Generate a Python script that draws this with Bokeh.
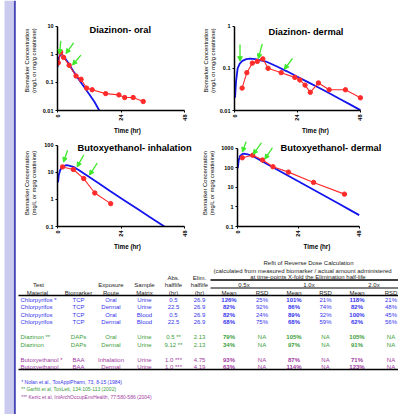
import math
from bokeh.plotting import figure
from bokeh.layouts import row, column
from bokeh.models import (Range1d, FixedTicker, NumeralTickFormatter, Arrow,
                          NormalHead, Label)
from bokeh.embed import file_html
from bokeh.resources import INLINE
from bokeh.core.properties import value

# ===================== DATA =====================
# Diazinon - oral
dzo_meas_t = [0.3, 1.2, 2.3, 4.4, 7.0, 8.9, 11.0, 13.1, 18.2, 23.2, 25.4, 28.6, 32.4]
dzo_meas_c = [0.5, 1.2, 0.78, 0.41, 0.17, 0.13, 0.063, 0.055, 0.040, 0.036, 0.029, 0.029, 0.021]
dzo_model_t = [0, 0.5, 1, 1.5, 2, 3, 4, 6, 8, 10, 12, 14, 15.8]
dzo_model_c = [0.35, 0.75, 0.95, 1.0, 0.92, 0.7, 0.5, 0.25, 0.13, 0.07, 0.038, 0.02, 0.01]
dzo_arrow_t = [0.76, 3.2, 5.7]
dzo_arrow_c = [1.03, 1.08, 0.42]

# Diazinon - dermal
dzd_meas_t = [2.9, 4.7, 6.8, 8.7, 10.8, 12.8, 17.8, 23.0, 24.9, 26.9, 28.9, 32.0, 36.1, 42.3, 48.0]
dzd_meas_c = [0.034, 0.079, 0.133, 0.146, 0.168, 0.10, 0.079, 0.061, 0.053, 0.040, 0.027, 0.045, 0.031, 0.031, 0.020]
dzd_model_t = [0.2, 0.6, 1.2, 2, 3, 4.5, 6, 8, 12, 16, 20, 24, 28, 32, 36, 40, 44, 48]
dzd_model_c = [0.02, 0.05, 0.10, 0.13, 0.15, 0.165, 0.17, 0.165, 0.145, 0.112, 0.085, 0.063, 0.047, 0.035, 0.026, 0.019, 0.014, 0.0102]
dzd_arrow_t = [2.1, 9.1, 19.0]
dzd_arrow_c = [0.148, 0.171, 0.095]

# Butoxyethanol - inhalation
bei_meas_t = [1.9, 6.0, 9.9, 14.1, 20.1]
bei_meas_c = [15.9, 12.8, 5.9, 1.73, 0.70]
bei_model_t = [0.2, 0.5, 1, 1.5, 2, 3.2, 4, 6, 8, 10, 15, 20, 25, 30, 35, 40.4]
bei_model_c = [4.3, 8.0, 12.0, 15.0, 17.0, 18.3, 18.0, 16.0, 12.3, 9.0, 4.3, 2.0, 0.96, 0.46, 0.22, 0.10]
bei_arrow_t = [2.3, 7.4, 12.1]
bei_arrow_c = [24.0, 15.9, 8.0]

# Butoxyethanol - dermal
bed_meas_t = [1.9, 6.0, 9.9, 14.0, 20.1, 30.0, 42.2]
bed_meas_c = [324, 437, 249, 113, 60, 17.9, 4.5]
bed_model_t = [0.1, 0.5, 1, 2, 3, 4, 6, 10, 15, 20, 25, 30, 35, 40, 45, 48]
bed_model_c = [97, 250, 400, 510, 520, 480, 400, 205, 90, 39, 17.2, 7.5, 3.3, 1.45, 0.63, 0.38]
bed_arrow_t = [1.95, 6.2, 10.8]
bed_arrow_c = [637, 490, 279]

time_ticks = [0, 24, 48]

# Table
materials = ["Chlorpyrifos *", "Chlorpyrifos", "Chlorpyrifos", "Chlorpyrifos",
             "Diazinon **", "Diazinon", "Butoxyethanol *", "Butoxyethanol"]
biomarkers = ["TCP", "TCP", "TCP", "TCP", "DAPs", "DAPs", "BAA", "BAA"]
routes = ["Oral", "Dermal", "Oral", "Dermal", "Oral", "Dermal", "Inhalation", "Dermal"]
matrices = ["Urine", "Urine", "Blood", "Blood", "Urine", "Urine", "Urine", "Urine"]
abs_hl = ["0.5", "22.5", "0.5", "22.5", "0.5 **", "9.12 **", "1.0 ***", "1.0 ***"]
elim_hl = ["26.9", "26.9", "26.9", "26.9", "2.13", "2.13", "4.75", "4.19"]
mean_05 = ["126%", "82%", "82%", "68%", "79%", "34%", "93%", "63%"]
rsd_05 = ["25%", "92%", "24%", "75%", "NA", "NA", "NA", "NA"]
mean_10 = ["101%", "86%", "89%", "68%", "105%", "97%", "87%", "114%"]
rsd_10 = ["21%", "74%", "32%", "59%", "NA", "NA", "NA", "NA"]
mean_20 = ["118%", "82%", "100%", "62%", "105%", "91%", "71%", "123%"]
rsd_20 = ["21%", "48%", "45%", "56%", "NA", "NA", "NA", "NA"]
row_group = ["c", "c", "c", "c", "d", "d", "b", "b"]
fold_labels = ["0.5x", "1.0x", "2.0x"]
footnotes = ["*   Nolan et al., ToxApplPharm, 73, 8-15 (1984)",
             "**   Garfitt et al, ToxLett, 134:105-113 (2002)",
             "***   Kezic et al, IntArchOccupEnvHealth, 77:580-586 (2004)"]
foot_group = ["c", "d", "b"]

# ===================== STYLE / LAYOUT =====================
FONT = "Liberation Sans"
BLUE = "#1414ee"
RED = "#ff2b2b"
GREEN = "#3ee82a"
GROUP_COL = {"c": "#3535ee", "d": "#3a9e3a", "b": "#a23aa2"}
YLAB = "Biomarker Concentration\n(mg/L or mg/g creatinine)"


def make_plot(title, mt, mc, lt, lc, at, ac, y0, y1, yticks, g):
    fx0, fy0, fx1, fy1 = g["fig"]
    ax0, ay0, ax1, ay1 = g["axis"]
    frx1, fry0 = g["frame"]
    aw, ah = ax1 - ax0, ay1 - ay0
    px_hr = aw / 48.0
    px_dec = ah / (math.log10(y1) - math.log10(y0))
    x_end = 48 + (frx1 - ax1) / px_hr
    y_end = 10 ** (math.log10(y1) + (ay0 - fry0) / px_dec)
    p = figure(width=fx1 - fx0, height=fy1 - fy0, x_range=Range1d(0, x_end),
               y_range=Range1d(y0, y_end), y_axis_type="log",
               output_backend="svg", toolbar_location=None,
               min_border_left=ax0 - fx0, min_border_right=fx1 - frx1,
               min_border_top=fry0 - fy0, min_border_bottom=fy1 - ay1)
    p.outline_line_color = None
    p.grid.visible = False
    p.background_fill_color = "white"
    p.border_fill_color = "white"
    p.line(lt, lc, line_color=BLUE, line_width=1.8)
    p.line(mt, mc, line_color=RED, line_width=1.1)
    p.scatter(mt, mc, size=4.4, color=RED)
    for ax in (p.xaxis[0], p.yaxis[0]):
        ax.axis_line_width = 1.5
        ax.axis_line_color = "black"
        ax.major_tick_line_width = 1
        ax.major_tick_out = 2
        ax.major_tick_in = 0
        ax.minor_tick_line_color = None
        ax.major_label_text_font = FONT
        ax.major_label_text_font_size = "5.5px"
        ax.major_label_text_font_style = "bold"
        ax.major_label_text_color = "black"
        ax.major_label_standoff = 2
        ax.axis_label_text_font = FONT
        ax.axis_label_text_color = "black"
    xa = p.xaxis[0]
    xa.ticker = FixedTicker(ticks=time_ticks)
    xa.bounds = (0, 48)
    xa.major_label_orientation = math.pi / 2
    xa.axis_label = "Time (hr)"
    xa.axis_label_text_font_style = "bold"
    xa.axis_label_text_font_size = "6.3px"
    xa.axis_label_standoff = g["xs"]
    ya = p.yaxis[0]
    ya.ticker = FixedTicker(ticks=yticks)
    ya.bounds = (y0, y1)
    ya.formatter = NumeralTickFormatter(format="0.[00]")
    ya.axis_label = YLAB
    ya.axis_label_text_font_style = "normal"
    ya.axis_label_text_font_size = "5.8px"
    ya.axis_label_standoff = g["ys"]
    for t, c, (dx, dy) in zip(at, ac, g["arr"]):
        p.add_layout(Arrow(end=NormalHead(size=4.5, fill_color=GREEN, line_color=GREEN, line_width=1),
                           x_start=t + dx / px_hr, y_start=c * 10 ** (dy / px_dec),
                           x_end=t, y_end=c, line_color=GREEN, line_width=1.3))
    p.add_layout(Label(x=0, y=y1, x_offset=g["tx"], y_offset=-g["ty"], text=title,
                       text_font=FONT, text_font_size="9.3px", text_font_style="bold",
                       text_align="left", text_baseline="middle", text_color="black"))
    return p


g1 = dict(fig=(16, 0, 199, 137), axis=(57, 26, 184, 111), frame=(197, 10),
          xs=3, ys=3, tx=32, ty=4, arr=[(1.3, 13.3), (7.7, 10.7), (8.3, 10)])
g2 = dict(fig=(199, 0, 398, 137), axis=(230, 24, 359, 110), frame=(396, 8),
          xs=3, ys=1, tx=34, ty=6, arr=[(0, 17), (4, 15), (8.3, 11)])
g3 = dict(fig=(16, 137, 199, 252), axis=(57, 145, 184, 229), frame=(197, 139),
          xs=3, ys=4, tx=20, ty=2.7, arr=[(4, 12.3), (6.7, 12.3), (7.7, 12.3)])
g4 = dict(fig=(199, 137, 398, 252), axis=(234, 148, 358, 229), frame=(396, 139),
          xs=3, ys=3, tx=43, ty=0, arr=[(3.7, 10.7), (8.3, 11.7), (7.7, 11.7)])

p1 = make_plot("Diazinon- oral", dzo_meas_t, dzo_meas_c, dzo_model_t, dzo_model_c,
               dzo_arrow_t, dzo_arrow_c, 0.01, 10, [0.01, 0.1, 1, 10], g1)
p2 = make_plot("Diazinon- dermal", dzd_meas_t, dzd_meas_c, dzd_model_t, dzd_model_c,
               dzd_arrow_t, dzd_arrow_c, 0.01, 1, [0.01, 0.1, 1], g2)
p3 = make_plot("Butoxyethanol- inhalation", bei_meas_t, bei_meas_c, bei_model_t, bei_model_c,
               bei_arrow_t, bei_arrow_c, 0.1, 100, [0.1, 1, 10, 100], g3)
p4 = make_plot("Butoxyethanol- dermal", bed_meas_t, bed_meas_c, bed_model_t, bed_model_c,
               bed_arrow_t, bed_arrow_c, 0.1, 1000, [0.1, 1, 10, 100, 1000], g4)

# ---------------- table (page-pixel coordinate space) ----------------
tab = figure(width=382, height=162, x_range=Range1d(16, 398), y_range=Range1d(414, 252),
             output_backend="svg", toolbar_location=None, min_border=0,
             x_axis_location=None, y_axis_location=None)
tab.outline_line_color = None
tab.grid.visible = False
tab.background_fill_color = "white"
tab.border_fill_color = "white"

TS = "6px"
HEAD = "#222222"
row_y = [299, 306.7, 314, 321.7, 336.7, 344, 359, 366.7]
col_x = [78, 110.5, 144, 173, 199, 228.5, 261.5, 293.5, 325, 356.5, 390.5]
fold_x = [243.5, 308.5, 373.5]


def put_text(xs, ys, texts, colors, align="center", style="normal", size=TS):
    tab.text(x=xs, y=ys, text=texts, text_color=colors, text_align=align,
             text_baseline="middle", text_font=value(FONT),
             text_font_size=value(size), text_font_style=style)


hx, hy, ht = [], [], []
for x, y, t in [(38, 284.3, "Test"), (37, 292.3, "Material"), (78, 292.3, "Biomarker"),
                (110.5, 284.3, "Exposure"), (110.5, 292.3, "Route"),
                (144, 284.3, "Sample"), (144, 292.3, "Matrix"),
                (173, 277, "Abs."), (173, 284.3, "halflife"), (173, 292, "(hr)"),
                (199, 277, "Elim."), (199, 284.3, "halflife"), (199, 292, "(hr)"),
                (308, 262, "Refit of Reverse Dose Calculation"),
                (307.5, 276.5, "at time-points X-fold the Elimination half-life")]:
    hx.append(x); hy.append(y); ht.append(t)
for x, t in zip(fold_x, fold_labels):
    hx.append(x); hy.append(284); ht.append(t)
for i in range(3):
    hx += [col_x[5 + 2 * i], col_x[6 + 2 * i]]
    hy += [292, 292]
    ht += ["Mean", "RSD"]
put_text(hx, hy, ht, [HEAD] * len(ht))
put_text([213], [270.5], ["(calculated from measured biomarker / actual amount administered"],
         [HEAD], align="left")

cols_normal = [biomarkers, routes, matrices, abs_hl, elim_hl]
lx, ly, lt, lc = [], [], [], []
nx, ny, nt, nc = [], [], [], []
bx, by, bt_, bc = [], [], [], []
for r in range(len(materials)):
    col = GROUP_COL[row_group[r]]
    lx.append(20); ly.append(row_y[r]); lt.append(materials[r]); lc.append(col)
    for j, arr in enumerate(cols_normal):
        nx.append(col_x[j]); ny.append(row_y[r]); nt.append(arr[r]); nc.append(col)
    for j, arr in enumerate([mean_05, mean_10, mean_20]):
        bx.append(col_x[5 + 2 * j]); by.append(row_y[r]); bt_.append(arr[r]); bc.append(col)
    for j, arr in enumerate([rsd_05, rsd_10, rsd_20]):
        nx.append(col_x[6 + 2 * j]); ny.append(row_y[r]); nt.append(arr[r]); nc.append(col)
put_text(lx, ly, lt, lc, align="left")
put_text(nx, ny, nt, nc)
put_text(bx, by, bt_, bc, style="bold")

tab.segment(x0=[210, 210, 18, 18], y0=[279.5, 287.5, 295, 369],
            x1=[398, 398, 398, 398], y1=[279.5, 287.5, 295, 369],
            line_color="black", line_width=[1.6, 1.0, 1.6, 1.6])

put_text([20.7] * 3, [381.7, 388.3, 396.7], footnotes,
         [GROUP_COL[g] for g in foot_group], align="left", size="5px")

# ---------------- left band ----------------
band = figure(width=16, height=414, x_range=Range1d(0, 16), y_range=Range1d(414, 0),
              output_backend="svg", toolbar_location=None, min_border=0,
              x_axis_location=None, y_axis_location=None)
band.outline_line_color = None
band.grid.visible = False
band.border_fill_color = "white"
band.background_fill_color = "white"
band.quad(left=[4, 13.4], right=[13.4, 15.3], top=[0, 0], bottom=[414, 414],
          color=["#cbcbef", "#4646b4"], line_color=None)

layout = row(band, column(row(p1, p2), row(p3, p4), tab))
open("out.html", "w").write(file_html(layout, INLINE))
